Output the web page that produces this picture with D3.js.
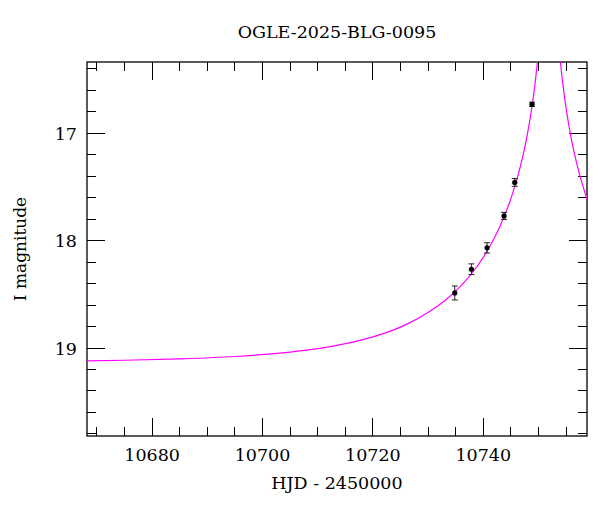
<!DOCTYPE html>
<html>
<head>
<meta charset="utf-8">
<script src="https://cdn.jsdelivr.net/npm/d3@7"></script>
<style>
  body { margin: 0; background: #fff; }
  text { font-family: "DejaVu Serif", serif; fill: #000; }
</style>
</head>
<body>
<div class="board"></div>
<script>
//Observed points
var obsHJD = [10734.84, 10737.86, 10740.69, 10743.77, 10745.71, 10748.84];
var obsMag = [18.487, 18.266, 18.067, 17.769, 17.457, 16.729];
var obsErr = [0.065, 0.05, 0.048, 0.033, 0.036, 0.02];

//Model curve
var modelHJD = [10668, 10675, 10685, 10695, 10705, 10712, 10718, 10722, 10726, 10730,
                10733, 10736, 10739, 10741, 10743, 10745, 10746.5, 10747.3, 10748, 10749,
                10749.4, 10749.8, 10750.2, 10751.9, 10753.6, 10754.0, 10754.4, 10755,
                10755.5, 10756, 10757, 10758, 10759];
var modelMag = [19.120, 19.114, 19.101, 19.079, 19.038, 18.990, 18.925, 18.864, 18.782, 18.670,
                18.560, 18.418, 18.231, 18.071, 17.871, 17.610, 17.354, 17.185, 17.008, 16.690,
                16.530, 16.342, 16.113, 14.0, 16.113, 16.342, 16.530, 16.762,
                16.922, 17.062, 17.294, 17.482, 17.640];

//Axis ticks
var xMajor = [10680, 10700, 10720, 10740];
var xMinor = [10670, 10675, 10685, 10690, 10695, 10705, 10710, 10715, 10725, 10730, 10735, 10745, 10750, 10755];
var yMajor = [17, 18, 19];
var yMinor = [16.4, 16.6, 16.8, 17.2, 17.4, 17.6, 17.8, 18.2, 18.4, 18.6, 18.8, 19.2, 19.4, 19.6, 19.8];

var W = 600, H = 512;
var L = 87, R = 587, T = 62, B = 436;

var svg = d3.select('.board').append('svg')
            .attr('width', W)
            .attr('height', H);

var x = d3.scaleLinear().domain([10668.2, 10758.8]).range([L, R]);
var y = d3.scaleLinear().domain([16.335, 19.82]).range([T, B]);

svg.append('clipPath').attr('id', 'plot')
   .append('rect').attr('x', L).attr('y', T).attr('width', R - L).attr('height', B - T);

//Ticks on all four sides
var tickG = svg.append('g').attr('stroke', '#000').attr('stroke-width', 1).attr('shape-rendering', 'crispEdges');
function xTicks(vals, len) {
  tickG.selectAll(null).data(vals).enter().append('line')
       .attr('x1', x).attr('x2', x).attr('y1', B).attr('y2', B - len);
  tickG.selectAll(null).data(vals).enter().append('line')
       .attr('x1', x).attr('x2', x).attr('y1', T).attr('y2', T + len);
}
function yTicks(vals, len) {
  tickG.selectAll(null).data(vals).enter().append('line')
       .attr('y1', y).attr('y2', y).attr('x1', L).attr('x2', L + len);
  tickG.selectAll(null).data(vals).enter().append('line')
       .attr('y1', y).attr('y2', y).attr('x1', R).attr('x2', R - len);
}
xTicks(xMajor, 18); xTicks(xMinor, 9);
yTicks(yMajor, 18); yTicks(yMinor, 9);

//Frame
svg.append('rect')
   .attr('x', L).attr('y', T).attr('width', R - L).attr('height', B - T)
   .attr('fill', 'none').attr('stroke', '#000').attr('stroke-width', 1.3);

//Tick labels
svg.selectAll('.xl').data(xMajor).enter().append('text')
   .attr('class', 'xl')
   .attr('x', x).attr('y', B + 25)
   .attr('text-anchor', 'middle').attr('font-size', 17.5)
   .text(function(d) { return d; });
svg.selectAll('.yl').data(yMajor).enter().append('text')
   .attr('class', 'yl')
   .attr('x', L - 10).attr('y', function(d) { return y(d) + 6.5; })
   .attr('text-anchor', 'end').attr('font-size', 17.5)
   .text(function(d) { return d; });

//Titles
svg.append('text').attr('x', (L + R) / 2).attr('y', 38)
   .attr('text-anchor', 'middle').attr('font-size', 17.5).text('OGLE-2025-BLG-0095');
svg.append('text').attr('x', (L + R) / 2).attr('y', 489)
   .attr('text-anchor', 'middle').attr('font-size', 17.5).text('HJD - 2450000');
svg.append('text')
   .attr('transform', 'translate(26,' + ((T + B) / 2) + ') rotate(-90)')
   .attr('text-anchor', 'middle').attr('font-size', 17).text('I magnitude');

//Model
var line = d3.line()
             .x(function(d, i) { return x(modelHJD[i]); })
             .y(function(d) { return y(d); })
             .curve(d3.curveMonotoneX);
svg.append('path')
   .datum(modelMag)
   .attr('clip-path', 'url(#plot)')
   .attr('d', line)
   .attr('fill', 'none')
   .attr('stroke', '#ff00ff')
   .attr('stroke-width', 1.2);

//Error bars and points
var pts = svg.append('g').selectAll('g')
             .data(d3.range(obsHJD.length))
             .enter().append('g');
pts.append('line')
   .attr('x1', function(i) { return x(obsHJD[i]); })
   .attr('x2', function(i) { return x(obsHJD[i]); })
   .attr('y1', function(i) { return y(obsMag[i] - obsErr[i]); })
   .attr('y2', function(i) { return y(obsMag[i] + obsErr[i]); })
   .attr('stroke', '#222').attr('stroke-width', 1);
[-1, 1].forEach(function(s) {
  pts.append('line')
     .attr('x1', function(i) { return x(obsHJD[i]) - 3; })
     .attr('x2', function(i) { return x(obsHJD[i]) + 3; })
     .attr('y1', function(i) { return y(obsMag[i] + s * obsErr[i]); })
     .attr('y2', function(i) { return y(obsMag[i] + s * obsErr[i]); })
     .attr('stroke', '#222').attr('stroke-width', 1);
});
pts.append('circle')
   .attr('cx', function(i) { return x(obsHJD[i]); })
   .attr('cy', function(i) { return y(obsMag[i]); })
   .attr('r', 2.6)
   .attr('fill', '#000');
</script>
</body>
</html>
